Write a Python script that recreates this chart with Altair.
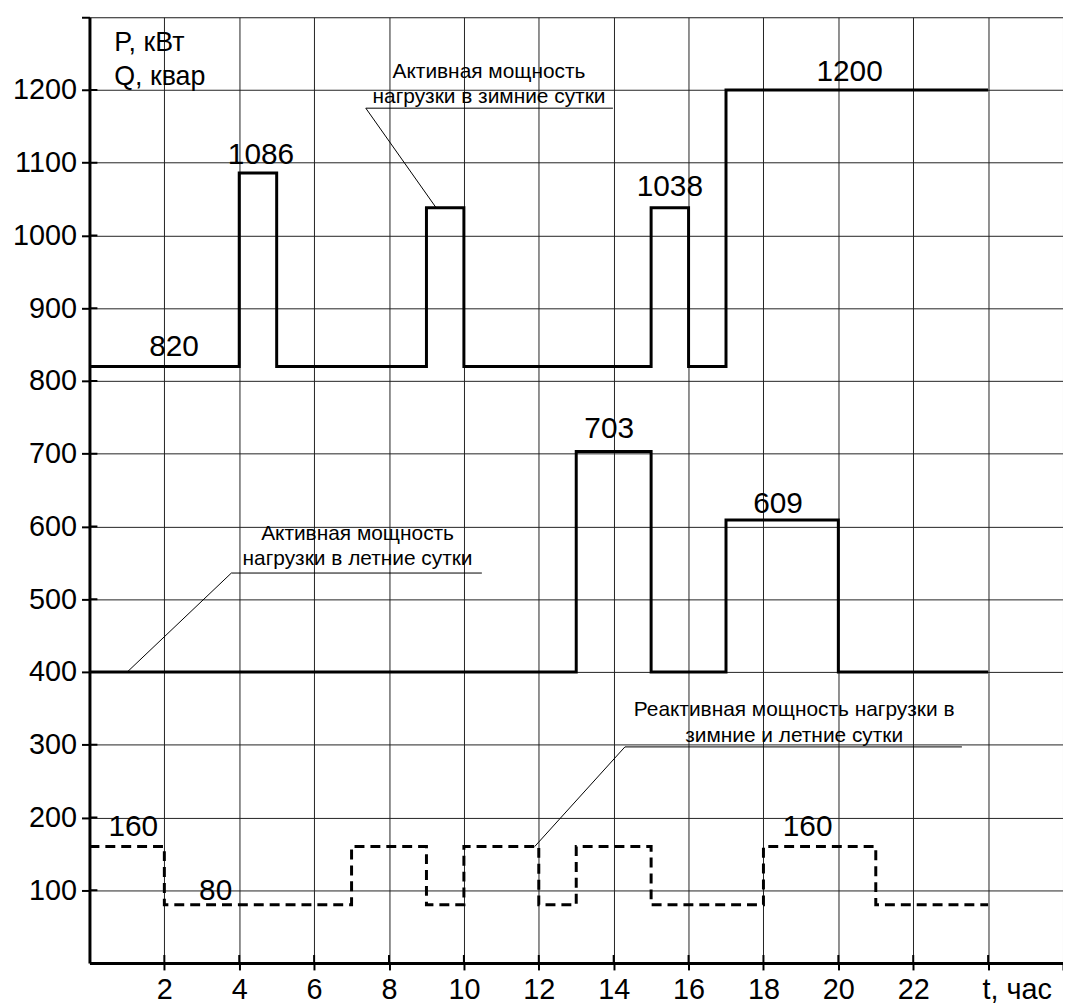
import altair as alt
import pandas as pd

FONT = "Liberation Sans"

# Winter active power P (step-after: value holds from t[i] to t[i+1])
winter_t = [0, 4, 5, 9, 10, 15, 16, 17, 24]
winter_p = [820, 1086, 820, 1038, 820, 1038, 820, 1200, 1200]
# Summer active power P
summer_t = [0, 13, 15, 17, 20, 24]
summer_p = [400, 703, 400, 609, 400, 400]
# Reactive power Q (winter and summer)
q_t = [0, 2, 7, 9, 10, 12, 13, 15, 18, 21, 24]
q_v = [160, 80, 160, 80, 160, 80, 160, 80, 160, 80, 80]

x_ticks = [2, 4, 6, 8, 10, 12, 14, 16, 18, 20, 22, 24, 26]
y_ticks = [100, 200, 300, 400, 500, 600, 700, 800, 900, 1000, 1100, 1200, 1300]

# value labels (text, hour, value of baseline)
val_text = ["820", "1086", "1038", "1200", "703", "609", "160", "80", "160"]
val_t = [2.26, 4.58, 15.5, 20.3, 13.88, 18.39, 1.17, 3.37, 19.18]
val_v = [834, 1098, 1054, 1213, 722, 618, 174, 87, 174]

# axis unit captions
unit_text = ["P, кВт", "Q, квар"]
unit_t = [0.66, 0.66]
unit_v = [1253, 1207]

# callout texts
note_text = ["Активная мощность", "нагрузки в зимние сутки",
             "Активная мощность", "нагрузки в летние сутки",
             "Реактивная мощность нагрузки в", "зимние и летние сутки"]
note_t = [10.67, 10.67, 7.16, 7.16, 18.82, 18.82]
note_v = [1216, 1182, 581, 547, 339, 304]

# callout underlines and leader lines (t, v, t2, v2)
line_t = [7.38, 7.38, 3.79, 3.79, 14.3, 14.3]
line_v = [1175, 1175, 536, 536, 297, 297]
line_t2 = [13.98, 9.26, 10.48, 1.01, 23.3, 11.89]
line_v2 = [1175, 1038, 536, 400, 297, 160]

xscale = alt.Scale(domain=[0, 26], nice=False, zero=False)
yscale = alt.Scale(domain=[0, 1300], nice=False, zero=False)

xaxis = alt.Axis(values=x_ticks, format="d", labelExpr="datum.value >= 24 ? '' : datum.label",
                 grid=True, gridColor="#222", gridWidth=1,
                 domainColor="black", domainWidth=3,
                 tickColor="black", tickWidth=2, tickSize=7,
                 labelFont=FONT, labelFontSize=29, labelColor="black",
                 labelBaseline="alphabetic", labelPadding=29, title=None)
yaxis = alt.Axis(values=y_ticks, format="d", labelExpr="datum.value >= 1300 ? '' : datum.label",
                 grid=True, gridColor="#222", gridWidth=1,
                 domainColor="black", domainWidth=3,
                 tickColor="black", tickWidth=2, tickSize=8,
                 labelFont=FONT, labelFontSize=29, labelColor="black",
                 labelPadding=5, title=None)

X = alt.X("t:Q", scale=xscale, axis=xaxis)
Y = alt.Y("v:Q", scale=yscale, axis=yaxis)

winter = alt.Chart(pd.DataFrame({"t": winter_t, "v": winter_p})).mark_line(
    interpolate="step-after", color="black", strokeWidth=3).encode(x=X, y=Y)
summer = alt.Chart(pd.DataFrame({"t": summer_t, "v": summer_p})).mark_line(
    interpolate="step-after", color="black", strokeWidth=3).encode(x=X, y=Y)
reactive = alt.Chart(pd.DataFrame({"t": q_t, "v": q_v})).mark_line(
    interpolate="step-after", color="black", strokeWidth=3, strokeDash=[10, 6]).encode(x=X, y=Y)

leaders = alt.Chart(pd.DataFrame({"t": line_t, "v": line_v, "t2": line_t2, "v2": line_v2})).mark_rule(
    color="black", strokeWidth=1).encode(x=X, y=Y, x2="t2:Q", y2="v2:Q")

# inner halves of the axis ticks (ticks cross the axis lines)
ytick_in = alt.Chart(pd.DataFrame({"v": y_ticks[:-1]})).mark_rule(
    color="black", strokeWidth=2).encode(y=Y, x=alt.value(0), x2=alt.value(8))
xtick_in = alt.Chart(pd.DataFrame({"t": x_ticks[:-1]})).mark_rule(
    color="black", strokeWidth=2).encode(x=X, y=alt.value(952), y2=alt.value(944))

values = alt.Chart(pd.DataFrame({"t": val_t, "v": val_v, "s": val_text})).mark_text(
    font=FONT, fontSize=30, color="black", align="center", baseline="alphabetic").encode(x=X, y=Y, text="s:N")

units = alt.Chart(pd.DataFrame({"t": unit_t, "v": unit_v, "s": unit_text})).mark_text(
    font=FONT, fontSize=27, color="black", align="left", baseline="alphabetic").encode(x=X, y=Y, text="s:N")

notes = alt.Chart(pd.DataFrame({"t": note_t, "v": note_v, "s": note_text})).mark_text(
    font=FONT, fontSize=21, color="black", align="center", baseline="alphabetic").encode(x=X, y=Y, text="s:N")

tlabel = alt.Chart(pd.DataFrame({"t": [23.85], "v": [-50], "s": ["t, час"]})).mark_text(
    font=FONT, fontSize=29, color="black", align="left", baseline="alphabetic").encode(x=X, y=Y, text="s:N")

chart = alt.layer(winter, summer, reactive, leaders, ytick_in, xtick_in, values, units, notes, tlabel).properties(
    width=980, height=952,
    autosize=alt.AutoSizeParams(type="none"),
    padding={"left": 82, "top": 6, "right": 0, "bottom": 40},
).configure_view(strokeWidth=0).configure(background="white")

chart.save("out.html", embed_options={"renderer": "svg", "actions": False})
